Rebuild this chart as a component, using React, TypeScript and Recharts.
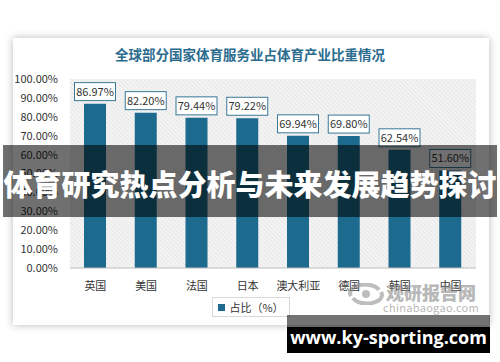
import React from 'react';
import { BarChart, Bar, XAxis, YAxis, CartesianGrid, LabelList } from 'recharts';

const countries = ['英国', '美国', '法国', '日本', '澳大利亚', '德国', '韩国', '中国'];
const shares = [86.97, 82.2, 79.44, 79.22, 69.94, 69.8, 62.54, 51.6];
const yTicks = [0, 10, 20, 30, 40, 50, 60, 70, 80, 90, 100];

const data = countries.map((name, i) => ({ name, share: shares[i] }));

const BAR = '#1c6b8e';
const FONT = '"Noto Sans CJK SC", "Noto Sans", sans-serif';

function ValueBox(props: any) {
  const { x, y, width, value } = props;
  const cx = x + width / 2;
  return (
    <g>
      <rect x={cx - 20.5} y={y - 21} width={41} height={18} fill="#fff" stroke="#3a7896" strokeWidth={1} />
      <text x={cx} y={y - 8} textAnchor="middle" fontSize={11} fill="#333" fontFamily={FONT}>
        {Number(value).toFixed(2)}%
      </text>
    </g>
  );
}

export default function App() {
  return (
    <div style={{ position: 'absolute', left: 0, top: 0, width: 500, height: 362, background: '#fff', overflow: 'hidden', fontFamily: FONT }}>
      <svg width={0} height={0} style={{ position: 'absolute' }}>
        <defs>
          <pattern id="hatch" width="3" height="3" patternUnits="userSpaceOnUse" patternTransform="rotate(-45)">
            <rect width="3" height="3" fill="#f4f4f4" />
            <line x1="0" y1="0" x2="0" y2="3" stroke="#dadada" strokeWidth="1" />
          </pattern>
        </defs>
      </svg>
      <div style={{ position: 'absolute', left: 13, top: 38, width: 476, height: 287, background: '#fff', boxShadow: '0 0 8px rgba(0,0,0,0.28)' }} />
      <div style={{ position: 'absolute', left: 0, top: 44, width: 500, textAlign: 'center', fontSize: 13.5, fontWeight: 700, color: '#2b6c8e' }}>
        全球部分国家体育服务业占体育产业比重情况
      </div>
      <div style={{ position: 'absolute', left: 0, top: 0 }}>
        <BarChart width={500} height={362} data={data} margin={{ top: 79, right: 24, bottom: 64, left: 0 }}>
          <CartesianGrid horizontal={false} vertical={false} fill="url(#hatch)" />
          <XAxis
            dataKey="name"
            height={30}
            tickLine={false}
            axisLine={{ stroke: '#bdbdbd' }}
            tickMargin={8}
            interval={0}
            tick={{ fontSize: 11, fill: '#333', fontFamily: FONT }}
          />
          <YAxis
            width={70}
            domain={[0, 100]}
            ticks={yTicks}
            axisLine={false}
            tickLine={false}
            tickSize={0}
            tickMargin={12}
            tickFormatter={(v: number) => v.toFixed(2) + '%'}
            tick={{ fontSize: 11, fill: '#333', fontFamily: FONT }}
          />
          <Bar dataKey="share" fill={BAR} barSize={22} isAnimationActive={false}>
            <LabelList dataKey="share" content={ValueBox} />
          </Bar>
        </BarChart>
      </div>
      <div style={{ position: 'absolute', left: 212, top: 297, width: 78, height: 20, border: '1px solid #d8d8d8', boxSizing: 'border-box', display: 'flex', alignItems: 'center', justifyContent: 'center', fontSize: 11, color: '#333' }}>
        <span style={{ display: 'inline-block', width: 7, height: 7, background: BAR, marginRight: 4 }} />
        占比（%）
      </div>
      <svg width={38} height={22} style={{ position: 'absolute', left: 347, top: 283, opacity: 0.55 }}>
        <path d="M4 13 A14 8 0 0 1 32 7" stroke="#888" strokeWidth={4} fill="none" />
        <path d="M34 9 A14 8 0 0 1 6 15" stroke="#888" strokeWidth={4} fill="none" />
        <circle cx={19} cy={11} r={4} fill="#888" />
      </svg>
      <div style={{ position: 'absolute', left: 386, top: 280, color: '#8a8a8a', opacity: 0.6, fontWeight: 900, fontSize: 18, lineHeight: '24px', letterSpacing: 0 }}>
        观研报告网
      </div>
      <div style={{ position: 'absolute', left: 383, top: 300, color: '#8a8a8a', opacity: 0.6, fontSize: 11, lineHeight: '14px', letterSpacing: 0.3 }}>
        chinabaogao.com
      </div>
      <div style={{ position: 'absolute', left: 3, top: 145, width: 494, height: 72, background: 'rgba(0,0,0,0.56)', display: 'flex', alignItems: 'center', justifyContent: 'center', paddingTop: 4, boxSizing: 'border-box' }}>
        <span style={{ color: '#fff', fontSize: 29, fontWeight: 900, whiteSpace: 'nowrap' }}>体育研究热点分析与未来发展趋势探讨</span>
      </div>
      <div style={{ position: 'absolute', left: 287, top: 315, width: 203, height: 12, background: 'rgba(0,0,0,0.55)' }} />
      <div style={{ position: 'absolute', left: 287, top: 327, width: 203, height: 26, background: '#000', display: 'flex', alignItems: 'center', justifyContent: 'center' }}>
        <span style={{ color: '#fff', fontSize: 18, fontWeight: 700, fontFamily: '"Open Sans", "DejaVu Sans", sans-serif', marginTop: -6 }}>www.ky-sporting.com</span>
      </div>
    </div>
  );
}
